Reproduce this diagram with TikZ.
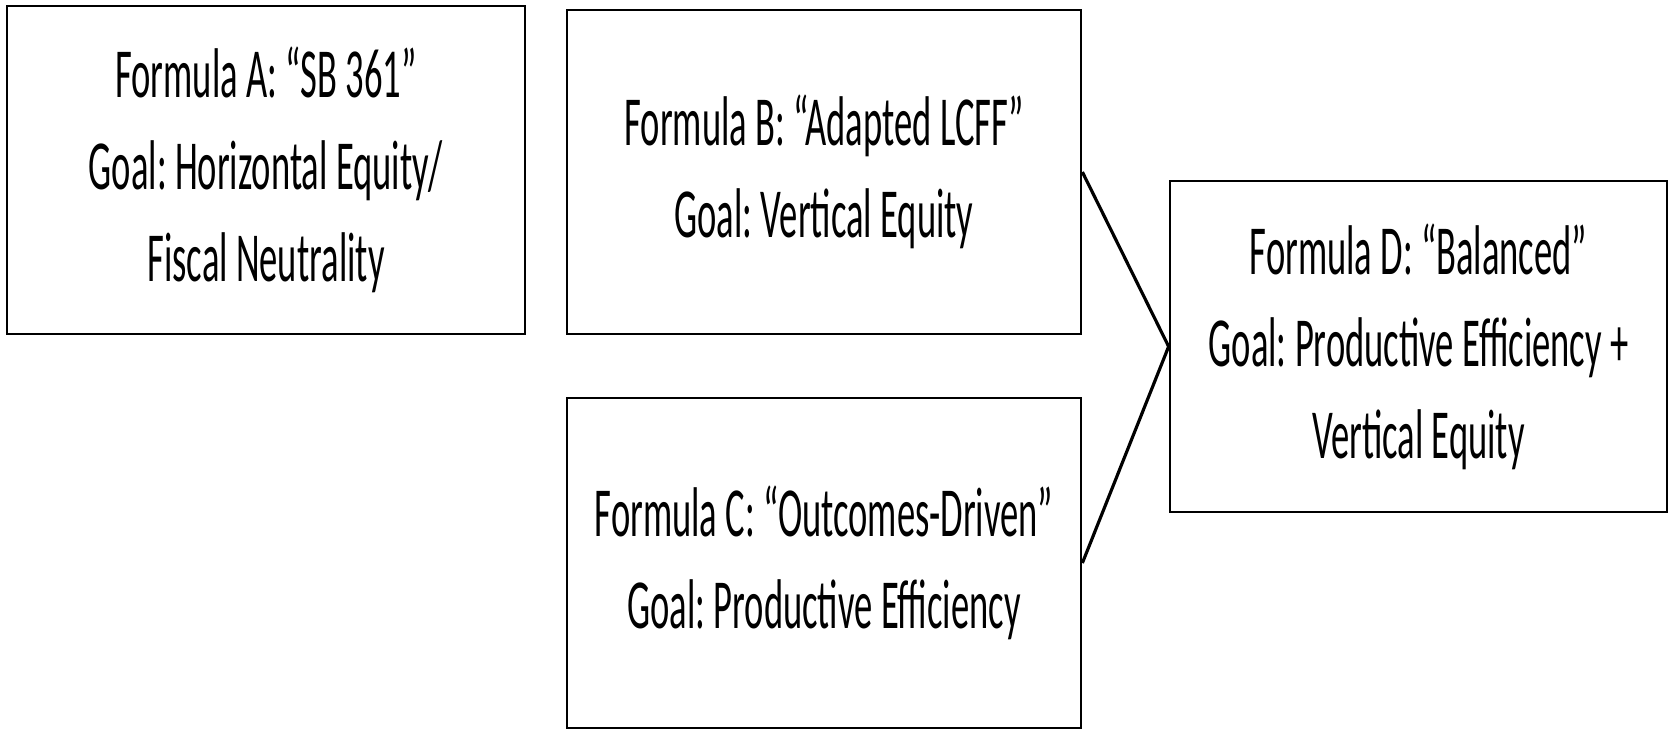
\documentclass[tikz,border=0pt]{standalone}
\usepackage{fontspec}
\setmainfont{Carlito}[FakeStretch=0.52]
\frenchspacing

\begin{document}
\begin{tikzpicture}[x=0.01cm, y=-0.01cm,
  every node/.style={font=\fontsize{20}{26.2}\selectfont},
  formula/.style={rectangle, draw, line width=0.7pt, align=center, inner sep=0pt},
  link/.style={line width=0.9pt}]
  \useasboundingbox (0,0) rectangle (1669,729);
  \node[formula, minimum width=5.18cm, minimum height=3.28cm] (A) at (266,170)
    {Formula A: “SB 361”\\Goal: Horizontal Equity/\\Fiscal Neutrality};
  \node[formula, minimum width=5.14cm, minimum height=3.24cm] (B) at (824,172)
    {Formula B: “Adapted LCFF”\\Goal: Vertical Equity};
  \node[formula, minimum width=5.14cm, minimum height=3.30cm] (C) at (824,563)
    {Formula C: “Outcomes-Driven”\\Goal: Productive Efficiency};
  \node[formula, minimum width=4.97cm, minimum height=3.31cm] (D) at (1418.5,346.5)
    {Formula D: “Balanced”\\Goal: Productive Efficiency +\\Vertical Equity};
  \draw[link] (B.east) -- (D.west) -- (C.east);
\end{tikzpicture}
\end{document}
